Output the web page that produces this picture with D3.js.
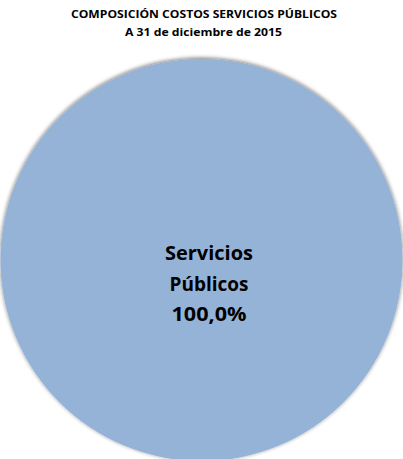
<!DOCTYPE html>
<html>
<head>
<meta charset="utf-8">
<script src="https://cdn.jsdelivr.net/npm/d3@7"></script>
<style>
  html, body { margin: 0; padding: 0; background: #fff; }
  svg { display: block; }
</style>
</head>
<body>
<script>
const titleLines = ["COMPOSICIÓN COSTOS SERVICIOS PÚBLICOS", "A 31 de diciembre de 2015"];
const categories = ["Servicios Públicos"];
const values = [100.0];
const colors = ["#95B3D7"];

const W = 403, H = 459;
const cx = 201.5, cy = 260, r = 201;

const svg = d3.select("body").append("svg").attr("width", W).attr("height", H);

const defs = svg.append("defs");
const f = defs.append("filter").attr("id", "shadow").attr("x", "-10%").attr("y", "-10%").attr("width", "120%").attr("height", "120%");
f.append("feGaussianBlur").attr("in", "SourceAlpha").attr("stdDeviation", 2.2).attr("result", "b");
f.append("feOffset").attr("in", "b").attr("dx", -0.5).attr("dy", -1.5).attr("result", "o");
f.append("feComponentTransfer").attr("in", "o").attr("result", "s")
  .append("feFuncA").attr("type", "linear").attr("slope", 0.55);
const m = f.append("feMerge");
m.append("feMergeNode").attr("in", "s");
m.append("feMergeNode").attr("in", "SourceGraphic");

// Title
const title = svg.append("g").attr("font-family", "'Open Sans', Lato, sans-serif")
  .attr("font-weight", "bold").attr("font-size", 10.5).attr("fill", "#000").attr("text-anchor", "middle");
title.append("text").attr("x", 204).attr("y", 18).attr("textLength", 266).attr("lengthAdjust", "spacingAndGlyphs").text(titleLines[0]);
title.append("text").attr("x", 203.5).attr("y", 36).attr("textLength", 157).attr("lengthAdjust", "spacingAndGlyphs").text(titleLines[1]);

// Pie
const pie = d3.pie().sort(null).value(d => d);
const arc = d3.arc().innerRadius(0).outerRadius(r);
const g = svg.append("g").attr("transform", `translate(${cx},${cy})`);
g.selectAll("path").data(pie(values)).join("path")
  .attr("d", arc)
  .attr("fill", (d, i) => colors[i])
  .attr("filter", "url(#shadow)");

// Label
const fmt = v => v.toFixed(1).replace(".", ",") + "%";
const labelLines = categories[0].split(" ").concat([fmt(values[0])]);
const lbl = svg.append("g").attr("font-family", "'Open Sans', Lato, sans-serif")
  .attr("font-weight", "bold").attr("font-size", 20).attr("fill", "#000").attr("text-anchor", "middle");
const baselines = [260, 291, 321];
const widths = [88, 79, 75];
labelLines.forEach((t, i) => {
  lbl.append("text").attr("x", 209).attr("y", baselines[i])
    .attr("textLength", widths[i]).attr("lengthAdjust", "spacingAndGlyphs").text(t);
});
</script>
</body>
</html>
